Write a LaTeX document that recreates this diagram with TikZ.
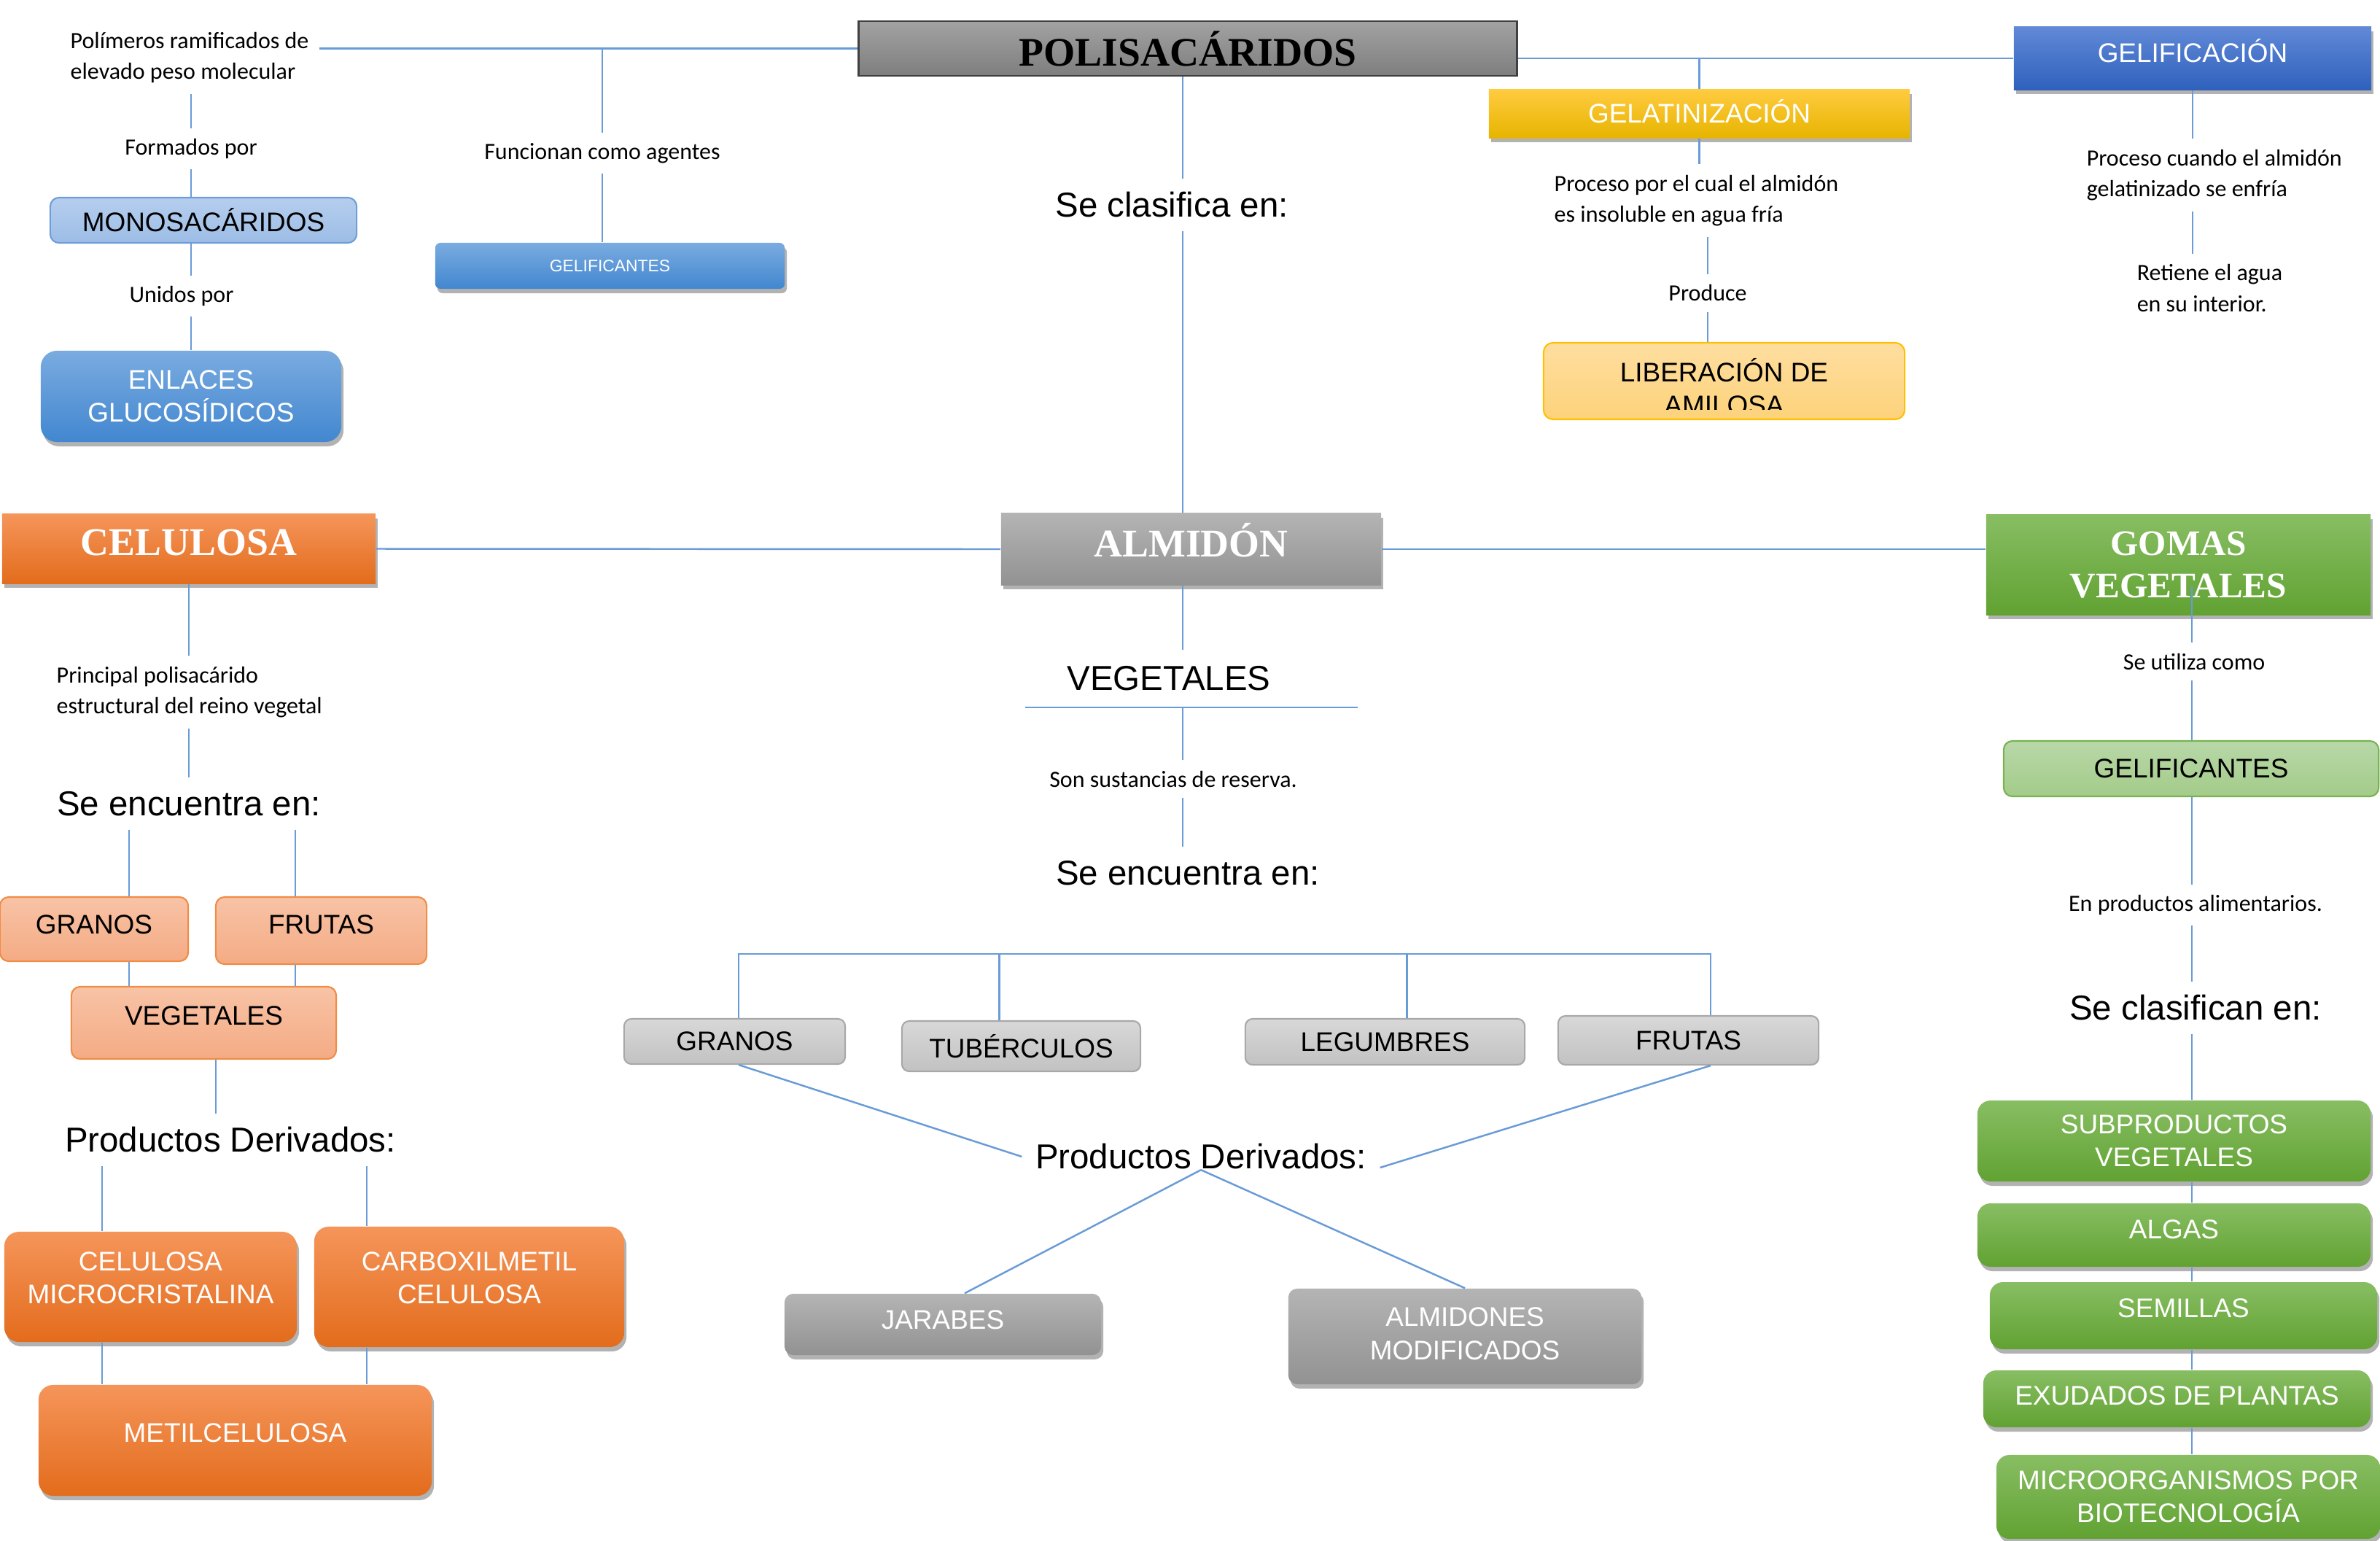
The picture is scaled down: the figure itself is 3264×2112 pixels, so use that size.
\documentclass[tikz,border=0pt]{standalone}
\usepackage{fontspec}
\setmainfont{Liberation Sans}
\newfontfamily\labelfont{Carlito}
\newfontfamily\titlefont{Liberation Serif}
\usetikzlibrary{shadows}

\definecolor{linkblue}{RGB}{105,155,215}
\definecolor{polistop}{HTML}{A2A2A2}
\definecolor{polisbot}{HTML}{7E7E7E}
\definecolor{polisline}{HTML}{404040}
\definecolor{dgreytop}{HTML}{B4B4B4}
\definecolor{dgreybot}{HTML}{929292}
\definecolor{greytop}{HTML}{D8D8D8}
\definecolor{greybot}{HTML}{C2C2C2}
\definecolor{greyline}{HTML}{A8A8A8}
\definecolor{orangetop}{HTML}{F5955A}
\definecolor{orangebot}{HTML}{E36C1C}
\definecolor{salmontop}{HTML}{F8C3A6}
\definecolor{salmonbot}{HTML}{F4AB84}
\definecolor{salmonline}{HTML}{F08C44}
\definecolor{paleblutop}{HTML}{B5CEEE}
\definecolor{paleblubot}{HTML}{9DBDE6}
\definecolor{palebluline}{HTML}{6E9DD8}
\definecolor{blutop}{HTML}{7AABE0}
\definecolor{blubot}{HTML}{4287D0}
\definecolor{royaltop}{HTML}{6189D7}
\definecolor{royalbot}{HTML}{2F61BC}
\definecolor{yellowtop}{HTML}{FFCB40}
\definecolor{yellowbot}{HTML}{E7B400}
\definecolor{paleyeltop}{HTML}{FEDEA0}
\definecolor{paleyelbot}{HTML}{FDD27A}
\definecolor{paleyelline}{HTML}{FFC000}
\definecolor{greentop}{HTML}{88BE63}
\definecolor{greenbot}{HTML}{61A232}
\definecolor{palegrntop}{HTML}{B8D8A8}
\definecolor{palegrnbot}{HTML}{A3CB89}
\definecolor{palegrnline}{HTML}{78B252}

\newcommand{\boxtext}{\fontsize{10.5}{12.9}\selectfont}
\newcommand{\bigtext}{\fontsize{13.5}{16}\selectfont}
\newcommand{\smalltext}{\labelfont\fontsize{9.1}{12}\selectfont}
\newcommand{\titletext}{\titlefont\bfseries\fontsize{15.3}{16.5}\selectfont}

\tikzset{
  conn/.style={draw=linkblue, line width=0.7pt},
  boxshadow/.style={drop shadow={shadow xshift=0.03cm, shadow yshift=-0.06cm, opacity=0.3, fill=black}},
  cbox/.style={inner sep=0pt, align=center, font=\boxtext},
  notetext/.style={align=left, font=\smalltext, inner sep=0.14cm},
  headtext/.style={font=\bigtext, inner sep=0.18cm},
  titlebox/.style={cbox, font=\titletext, text=white, boxshadow},
  orangebox/.style={cbox, rounded corners=0.2cm, top color=orangetop, bottom color=orangebot, text=white, boxshadow},
  salmonbox/.style={cbox, rounded corners=0.12cm, draw=salmonline, line width=0.6pt, top color=salmontop, bottom color=salmonbot},
  greybox/.style={cbox, rounded corners=0.1cm, draw=greyline, line width=0.6pt, top color=greytop, bottom color=greybot},
  darkgreybox/.style={cbox, rounded corners=0.12cm, top color=dgreytop, bottom color=dgreybot, text=white, boxshadow},
  greenbox/.style={cbox, rounded corners=0.18cm, top color=greentop, bottom color=greenbot, text=white, boxshadow},
  bluebox/.style={cbox, rounded corners=0.22cm, top color=blutop, bottom color=blubot, text=white, boxshadow}
}

\begin{document}
\begin{tikzpicture}[x=0.01cm, y=-0.01cm]
  \useasboundingbox (0,0) rectangle (3264,2112);

  \node[cbox, font=\titlefont\bfseries\fontsize{15.8}{17}\selectfont, draw=polisline, line width=0.8pt,
    top color=polistop, bottom color=polisbot, minimum width=9.02cm, minimum height=0.75cm] (polis) at (1629,66.5) {POLISACÁRIDOS};
  \node[notetext, anchor=west] (polim) at (82,79) {Polímeros ramificados de\\elevado peso molecular};
  \node[notetext] (formados) at (262,204) {Formados por};
  \node[cbox, rounded corners=0.12cm, draw=palebluline, line width=0.6pt, top color=paleblutop, bottom color=paleblubot,
    minimum width=4.2cm, minimum height=0.62cm] (mono) at (279,302) {MONOSACÁRIDOS};
  \node[notetext] (unidos) at (249,406) {Unidos por};
  \node[bluebox, minimum width=4.12cm, minimum height=1.25cm] (enlaces) at (262,543.5) {ENLACES\\GLUCOSÍDICOS};
  \node[notetext] (funcionan) at (826,210) {Funcionan como agentes};
  \node[bluebox, rounded corners=0.07cm, font=\fontsize{6.5}{8}\selectfont, minimum width=4.79cm, minimum height=0.63cm] (gelifA) at (836.5,364.5) {GELIFICANTES};
  \node[headtext] (seclasif) at (1607,281) {Se clasifica en:};
  \node[cbox, top color=yellowtop, bottom color=yellowbot, text=white, boxshadow, text depth=0.08cm,
    minimum width=5.77cm, minimum height=0.66cm] (gelat) at (2330.5,156) {GELATINIZACIÓN};
  \node[notetext, anchor=west] (procA) at (2117,275) {Proceso por el cual el almidón\\es insoluble en agua fría};
  \node[notetext] (produce) at (2342,402) {Produce};
  \node[cbox, rounded corners=0.13cm, draw=paleyelline, line width=0.6pt, top color=paleyeltop, bottom color=paleyelbot,
    minimum width=4.95cm, minimum height=1.05cm] (liber) at (2364.5,522.5) {};
  \begin{scope}
    \clip ([yshift=0.15cm]liber.south west) rectangle (liber.north east);
    \node[cbox] (libertext) at ([yshift=-0.075cm]liber.center) {LIBERACIÓN DE\\AMILOSA};
  \end{scope}
  \node[cbox, top color=royaltop, bottom color=royalbot, text=white, boxshadow, text depth=0.21cm,
    minimum width=4.9cm, minimum height=0.86cm] (gelific) at (3007,80) {GELIFICACIÓN};
  \node[notetext, anchor=west] (procB) at (2847,240) {Proceso cuando el almidón\\gelatinizado se enfría};
  \node[notetext, anchor=west] (retiene) at (2916,395) {Retiene el agua\\en su interior.};

  \node[titlebox, top color=orangetop, bottom color=orangebot, text depth=0.18cm, minimum width=5.12cm, minimum height=0.95cm] (celulosa) at (259,752.5) {CELULOSA};
  \node[titlebox, top color=dgreytop, bottom color=dgreybot, text depth=0.25cm, minimum width=5.21cm, minimum height=0.98cm] (almidon) at (1633.5,753) {ALMIDÓN};
  \node[titlebox, font=\titlefont\bfseries\fontsize{14}{16.5}\selectfont, top color=greentop, bottom color=greenbot,
    minimum width=5.27cm, minimum height=1.37cm] (gomas) at (2987.5,774.5) {GOMAS\\VEGETALES};

  \node[notetext, anchor=west] (principal) at (63,949) {Principal polisacárido\\estructural del reino vegetal};
  \node[headtext] (seencL) at (259,1102) {Se encuentra en:};
  \node[salmonbox, text depth=0.12cm, minimum width=2.58cm, minimum height=0.88cm] (granosL) at (129,1274) {GRANOS};
  \node[salmonbox, text depth=0.16cm, minimum width=2.89cm, minimum height=0.92cm] (frutasL) at (440.5,1276) {FRUTAS};
  \node[salmonbox, text depth=0.2cm, minimum width=3.63cm, minimum height=0.99cm] (vegL) at (279.5,1402.5) {VEGETALES};
  \node[headtext] (prodL) at (316,1563) {Productos Derivados:};
  \node[orangebox, text depth=0.25cm, minimum width=4.01cm, minimum height=1.51cm] (celmicro) at (206.5,1764.5) {CELULOSA\\MICROCRISTALINA};
  \node[orangebox, text depth=0.25cm, minimum width=4.25cm, minimum height=1.65cm] (carbox) at (643.5,1764.5) {CARBOXILMETIL\\CELULOSA};
  \node[orangebox, text depth=0.21cm, minimum width=5.39cm, minimum height=1.52cm] (metil) at (322.5,1975) {METILCELULOSA};

  \node[headtext, anchor=south, inner sep=0.22cm] (vegC) at (1603,970) {VEGETALES};
  \node[notetext] (sonsust) at (1609,1068) {Son sustancias de reserva.};
  \node[headtext] (seencC) at (1629,1197) {Se encuentra en:};
  \node[greybox, minimum width=3.03cm, minimum height=0.62cm] (granosC) at (1007.5,1428) {GRANOS};
  \node[greybox, minimum width=3.27cm, minimum height=0.69cm] (tuber) at (1400.5,1434.5) {TUBÉRCULOS};
  \node[greybox, minimum width=3.83cm, minimum height=0.63cm] (legum) at (1899.5,1428.5) {LEGUMBRES};
  \node[greybox, minimum width=3.57cm, minimum height=0.67cm] (frutasC) at (2315.5,1426.5) {FRUTAS};
  \node[headtext] (prodC) at (1647,1586) {Productos Derivados:};
  \node[darkgreybox, text depth=0.12cm, minimum width=4.34cm, minimum height=0.84cm] (jarabes) at (1293,1816) {JARABES};
  \node[darkgreybox, text depth=0.08cm, minimum width=4.84cm, minimum height=1.31cm] (almmod) at (2009,1832.5) {ALMIDONES\\MODIFICADOS};

  \node[notetext] (seutiliza) at (3009,907) {Se utiliza como};
  \node[cbox, rounded corners=0.12cm, draw=palegrnline, line width=0.6pt, top color=palegrntop, bottom color=palegrnbot,
    minimum width=5.14cm, minimum height=0.76cm] (gelifG) at (3005,1054) {GELIFICANTES};
  \node[notetext] (enprod) at (3011,1241) {En productos alimentarios.};
  \node[headtext] (seclasifR) at (3011,1382) {Se clasifican en:};
  \node[greenbox, minimum width=5.39cm, minimum height=1.11cm] (subprod) at (2981.5,1564.5) {SUBPRODUCTOS\\VEGETALES};
  \node[greenbox, text depth=0.16cm, minimum width=5.39cm, minimum height=0.87cm] (algas) at (2981.5,1693.5) {ALGAS};
  \node[greenbox, text depth=0.2cm, minimum width=5.31cm, minimum height=0.92cm] (semillas) at (2994.5,1804) {SEMILLAS};
  \node[greenbox, text depth=0.08cm, minimum width=5.31cm, minimum height=0.78cm] (exud) at (2985.5,1918) {EXUDADOS DE PLANTAS};
  \node[greenbox, minimum width=5.26cm, minimum height=1.15cm] (micro) at (3001,2052.5) {MICROORGANISMOS POR\\BIOTECNOLOGÍA};

  \coordinate (axisC) at (1622,0);
  \coordinate (axisR) at (3006,0);
  \coordinate (barL) at (1013,1308);
  \coordinate (barR) at (2346,1308);
  \coordinate (tubTop) at ([xshift=-0.3cm]tuber.north);
  \coordinate (legTop) at ([xshift=0.3cm]legum.north);
  \coordinate (colA) at ([xshift=0.48cm]granosL.north);
  \coordinate (colB) at ([xshift=-0.355cm]frutasL.north);
  \coordinate (colV) at ([xshift=0.165cm]vegL.south);
  \coordinate (colC) at ([xshift=-0.665cm]celmicro.north);
  \coordinate (colD) at ([xshift=-1.405cm]carbox.north);
  \coordinate (gomasIn) at ([yshift=0.4cm]gomas.south);

  \begin{scope}[conn]
    \draw (polis.west) -- (polis.west -| polim.east);
    \draw (funcionan.north) -- (funcionan.north |- polis.west);
    \draw (funcionan.south) -- (funcionan.south |- gelifA.north);
    \draw (formados.north) -- (formados.north |- polim.south);
    \draw (formados.south) -- (formados.south |- mono.north);
    \draw (formados.south |- mono.south) -- (formados.south |- unidos.north);
    \draw (formados.south |- unidos.south) -- (formados.south |- enlaces.north);
    \draw (polis.east |- gelific.west) -- (gelific.west);
    \draw (gelat.north) -- (gelat.north |- gelific.west);
    \draw (gelat.south) -- (gelat.south |- procA.north);
    \draw (produce.north) -- (produce.north |- procA.south);
    \draw (produce.south) -- (produce.south |- liber.north);
    \draw (gelific.south) -- (gelific.south |- procB.north);
    \draw (gelific.south |- procB.south) -- (gelific.south |- retiene.north);
    \draw (axisC |- polis.south) -- (axisC |- seclasif.north);
    \draw (axisC |- seclasif.south) -- (axisC |- almidon.north);
    \draw (celulosa.east) -- (almidon.west);
    \draw (almidon.east) -- (almidon.east -| gomas.west);
    \draw (axisC |- almidon.south) -- (axisC |- vegC.north);
    \draw ([xshift=-1.97cm]vegC.south) -- ([xshift=2.59cm]vegC.south);
    \draw (axisC |- vegC.south) -- (axisC |- sonsust.north);
    \draw (axisC |- sonsust.south) -- (axisC |- seencC.north);
    \draw (barL |- granosC.north) -- (barL) -- (barR) -- (barR |- frutasC.north);
    \draw (tubTop) -- (tubTop |- barL);
    \draw (legTop) -- (legTop |- barL);
    \draw (barL |- granosC.south) -- (prodC.west);
    \draw (barR |- frutasC.south) -- ([yshift=-0.15cm]prodC.east);
    \draw ([yshift=0.18cm]prodC.south) -- ([xshift=0.3cm]jarabes.north);
    \draw ([yshift=0.18cm]prodC.south) -- (almmod.north);
    \draw (celulosa.south) -- (celulosa.south |- principal.north);
    \draw (celulosa.south |- principal.south) -- (celulosa.south |- seencL.north);
    \draw (colA |- seencL.south) -- (colA |- granosL.north);
    \draw (colB |- seencL.south) -- (colB |- frutasL.north);
    \draw (colA |- granosL.south) -- (colA |- vegL.north);
    \draw (colB |- frutasL.south) -- (colB |- vegL.north);
    \draw (colV) -- (colV |- prodL.north);
    \draw (colC |- prodL.south) -- (colC |- celmicro.north);
    \draw (colD |- prodL.south) -- (colD |- carbox.north);
    \draw (colC |- celmicro.south) -- (colC |- metil.north);
    \draw (colD |- carbox.south) -- (colD |- metil.north);
    \draw (axisR |- gomasIn) -- (axisR |- seutiliza.north);
    \draw (axisR |- seutiliza.south) -- (axisR |- gelifG.north);
    \draw (axisR |- gelifG.south) -- (axisR |- enprod.north);
    \draw (axisR |- enprod.south) -- (axisR |- seclasifR.north);
    \draw (axisR |- seclasifR.south) -- (axisR |- subprod.north);
    \draw (axisR |- subprod.south) -- (axisR |- algas.north);
    \draw (axisR |- algas.south) -- (axisR |- semillas.north);
    \draw (axisR |- semillas.south) -- (axisR |- exud.north);
    \draw (axisR |- exud.south) -- (axisR |- micro.north);
  \end{scope}
\end{tikzpicture}
\end{document}
